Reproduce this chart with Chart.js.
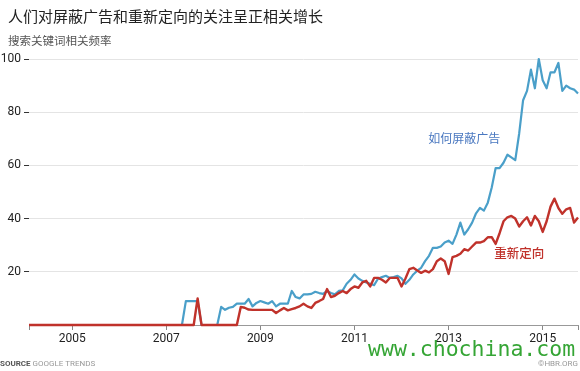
<!DOCTYPE html>
<html>
<head>
<meta charset="utf-8">
<script src="https://cdn.jsdelivr.net/npm/chart.js@4"></script>
<style>
  html, body { margin: 0; padding: 0; background: #fff; }
  #wrap { width: 580px; height: 371px; position: relative; }
</style>
</head>
<body>
<div id="wrap"><canvas id="c" width="580" height="371"></canvas></div>
<script>
// monthly, Feb 2004 .. Oct 2015
const months = [];
for (let y = 2004; y <= 2015; y++) {
  for (let m = 1; m <= 12; m++) {
    if ((y === 2004 && m < 2) || (y === 2015 && m > 10)) continue;
    months.push(y + '-' + String(m).padStart(2, '0'));
  }
}

const yearTicks = ['2005', '2007', '2009', '2011', '2013', '2015'];
const valueTicks = [20, 40, 60, 80, 100];

// 如何屏蔽广告 (how to block ads)
const blockAds = [
  0,0,0,0,0,0,0,0,0,0, 0,0,0,0,0,0,0,0,0,0, 0,0,0,0,0,0,0,0,0,0, 0,0,0,0,0,0,0,0,0,0,
  9,9,9,9, 0,0,0,0,0,
  6.8,5.7,6.5,6.8,8,8,8,9.8,7,8.3,9,8.5,8,9,7,8,8,8,12.8,10.5,10,11.5,11.5,11.7,12.5,12,11.7,12.8,12,11.5,
  12.8,13,15.5,17,19,17.5,16.6,16,15.5,15,17.4,18,18.5,17.7,18,18.5,17.5,15.5,17,19,20.4,21.5,24,26,29,29,
  29.5,31,31.7,30.5,34,38.5,34,36,38.5,42,44,43,46,51.7,59,59,61,64,63,62,72,84.5,88,96,89,100,92,89,95,95,
  98.5,88,90,89,88.5,87
];

// 重新定向 (retargeting)
const retargeting = [
  0,0,0,0,0,0,0,0,0,0, 0,0,0,0,0,0,0,0,0,0, 0,0,0,0,0,0,0,0,0,0, 0,0,0,0,0,0,0,0,0,0, 0,0,0,
  10,
  0,0,0,0,0,0,0,0,0,0,
  6.8,6.5,5.8,5.7,5.7,5.7,5.7,5.7,5.7,4.5,5.5,6.4,5.5,6,6.4,7,8,7,6.4,8.3,9,9.8,13.5,10.5,11,12,12.8,12,13.5,14.5,
  14,16,16.6,14.5,17.7,17.7,17,16,17.7,17.7,17.7,14.5,17.5,21,21.5,20.5,19.6,20.4,19.8,21,24,25,24,19.2,25.5,26,26.8,28.5,28,29.5,
  31,31,31.5,33,33,30.5,34.5,39,40.5,41,40,37,39,40.5,37.4,41,39,35,39,44.5,47.5,44,41.8,43.5,44,38.5,40.4
];

const BLUE = '#4a9fc9';
const RED = '#c0322b';
const CJK = '"Noto Sans CJK SC", sans-serif';

const textPlugin = {
  id: 'texts',
  afterDraw(chart) {
    const ctx = chart.ctx;
    const xs = chart.scales.x, ys = chart.scales.y;
    ctx.save();
    ctx.textBaseline = 'middle';
    ctx.textAlign = 'left';
    ctx.fillStyle = '#222';
    ctx.font = '15px ' + CJK;
    ctx.fillText('人们对屏蔽广告和重新定向的关注呈正相关增长', 8, 16);
    ctx.fillStyle = '#555';
    ctx.font = '11.5px ' + CJK;
    ctx.fillText('搜索关键词相关频率', 8, 41);

    // series labels
    ctx.textAlign = 'center';
    ctx.font = '12px ' + CJK;
    ctx.fillStyle = '#4a78c0';
    ctx.fillText('如何屏蔽广告', xs.getPixelForValue(months.indexOf('2013-05')), ys.getPixelForValue(70));
    ctx.fillStyle = RED;
    ctx.font = '500 12.5px ' + CJK;
    ctx.fillText('重新定向', xs.getPixelForValue(months.indexOf('2014-07')), ys.getPixelForValue(27));

    // footer
    ctx.textAlign = 'left';
    ctx.font = 'bold 8px Roboto, sans-serif';
    ctx.fillStyle = '#555';
    ctx.fillText('SOURCE', 0, 364);
    const w = ctx.measureText('SOURCE ').width;
    ctx.font = '8px Roboto, sans-serif';
    ctx.fillStyle = '#999';
    ctx.fillText('GOOGLE TRENDS', w, 364);
    ctx.textAlign = 'right';
    ctx.fillText('©HBR.ORG', 578, 364);

    // watermark
    ctx.textAlign = 'left';
    ctx.font = '21.5px "DejaVu Sans Mono", monospace';
    ctx.fillStyle = '#35a535';
    ctx.fillText('www.chochina.com', 368, 350);
    ctx.restore();
  }
};

new Chart(document.getElementById('c'), {
  type: 'line',
  data: {
    labels: months,
    datasets: [
      { label: '重新定向', data: retargeting, borderColor: RED, borderWidth: 2.4, order: 1 },
      { label: '如何屏蔽广告', data: blockAds, borderColor: BLUE, borderWidth: 2.2, order: 2 }
    ]
  },
  options: {
    responsive: false,
    animation: false,
    layout: { padding: { top: 59, bottom: 21, right: 2, left: 0 } },
    elements: { point: { radius: 0 }, line: { tension: 0, borderJoinStyle: 'round' } },
    datasets: { line: { clip: false } },
    plugins: { legend: { display: false }, tooltip: { enabled: false } },
    scales: {
      x: {
        type: 'category',
        offset: false,
        afterBuildTicks(scale) {
          const last = months.length - 1;
          scale.ticks = scale.ticks.filter(t => t.value === 0 || t.value === last ||
            yearTicks.includes(months[t.value].slice(0, 4)) && months[t.value].endsWith('-01'));
        },
        afterFit(scale) { scale.height = 25; },
        ticks: {
          autoSkip: false,
          maxRotation: 0,
          padding: 2,
          color: '#222',
          font: { family: 'Roboto', size: 12 },
          callback(v) {
            const lab = months[v];
            return lab.endsWith('-01') ? lab.slice(0, 4) : '';
          }
        },
        grid: { drawOnChartArea: false, tickLength: 5, color: '#888', tickWidth: 1 },
        border: { color: '#999', width: 1 }
      },
      y: {
        min: 0,
        max: 100,
        afterBuildTicks(scale) {
          scale.ticks = valueTicks.map(v => ({ value: v }));
        },
        afterFit(scale) { scale.width = 29; },
        ticks: {
          padding: 3,
          color: '#222',
          font: { family: 'Roboto', size: 12 }
        },
        grid: { color: '#e4e4e4', tickColor: '#333', tickLength: 5, tickWidth: 1 },
        border: { display: false }
      }
    }
  },
  plugins: [textPlugin]
});
</script>
</body>
</html>
